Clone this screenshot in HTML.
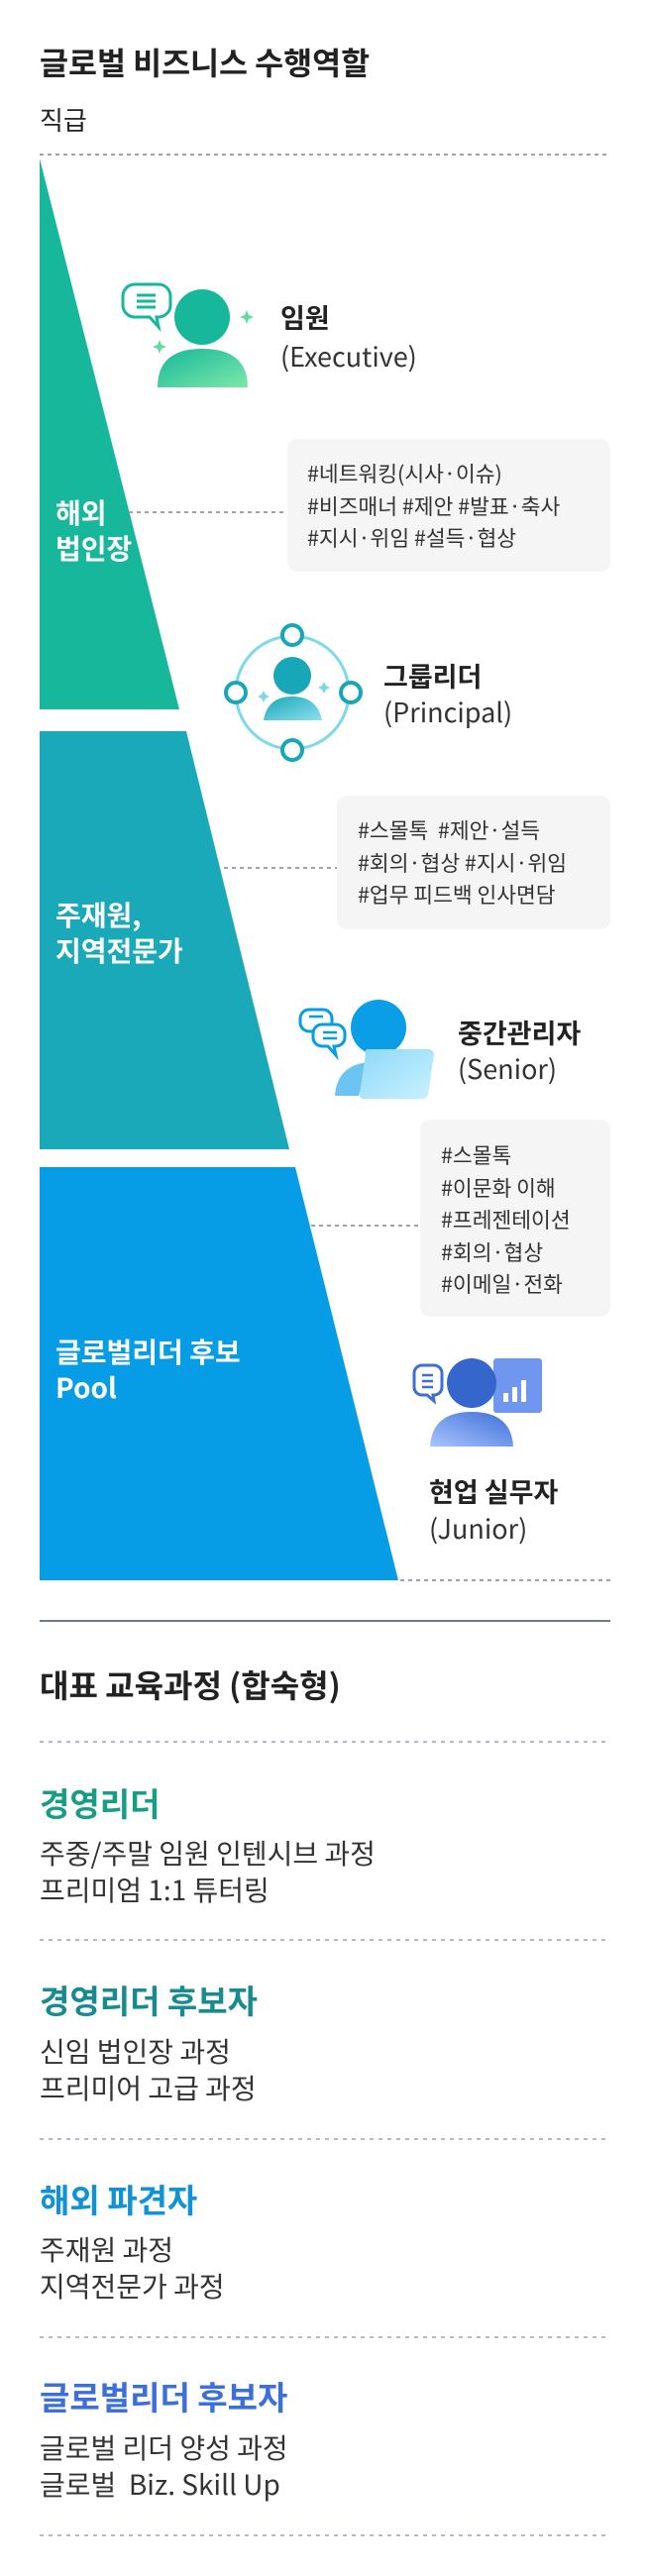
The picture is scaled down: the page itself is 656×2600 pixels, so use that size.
<!DOCTYPE html>
<html><head><meta charset="utf-8"><style>
*{margin:0;padding:0;box-sizing:border-box}
body{width:656px;height:2600px;background:#fff;position:relative;overflow:hidden;font-family:"Noto Sans CJK KR","Liberation Sans",sans-serif;color:#222}
.t{position:absolute;white-space:nowrap}
.b{font-weight:700}
.tag{position:absolute;background:#f5f5f5;border-radius:10px;font-size:21.5px;line-height:32.5px;color:#333;white-space:nowrap}
.w{color:#fff;font-weight:700;font-size:28px;line-height:36px}
.h{font-size:33px;font-weight:700;line-height:42px}
.s{font-size:28px;line-height:37px;color:#333}
.rn{font-size:27px;line-height:34px;font-weight:700}
.rl{font-size:27px;line-height:34px;color:#333}
</style></head><body>
<svg width="656" height="2600" style="position:absolute;left:0;top:0">
<defs>
<linearGradient id="g1" x1="0" y1="0" x2="1" y2="1"><stop offset="0" stop-color="#16b79a"/><stop offset="1" stop-color="#7de8a8"/></linearGradient>
<linearGradient id="g2" x1="0" y1="0" x2="1" y2="1"><stop offset="0" stop-color="#17a7b8"/><stop offset="1" stop-color="#8fe0ee"/></linearGradient>
<linearGradient id="g3" x1="0" y1="0" x2="1" y2="1"><stop offset="0" stop-color="#8fd8f8"/><stop offset="1" stop-color="#c8f2ff"/></linearGradient>
<linearGradient id="g4" x1="1" y1="0" x2="0" y2="1"><stop offset="0" stop-color="#3d6fd8"/><stop offset="1" stop-color="#a8c4ff"/></linearGradient>
</defs>
<line x1="40" y1="156" x2="616" y2="156" stroke="#9aa3b2" stroke-width="2" stroke-dasharray="4 4"/>
<polygon points="40,160 181,716 40,716" fill="#16b79a"/>
<polygon points="40,738 188,738 292,1160 40,1160" fill="#1aa9b9"/>
<polygon points="40,1178 298,1178 402,1595 40,1595" fill="#069de6"/>
<line x1="130" y1="517" x2="290" y2="517" stroke="#9aa3b2" stroke-width="2" stroke-dasharray="4 4"/>
<line x1="226" y1="876" x2="340" y2="876" stroke="#9aa3b2" stroke-width="2" stroke-dasharray="4 4"/>
<line x1="314" y1="1237" x2="424" y2="1237" stroke="#9aa3b2" stroke-width="2" stroke-dasharray="4 4"/>
<line x1="404" y1="1595" x2="616" y2="1595" stroke="#9aa3b2" stroke-width="2" stroke-dasharray="4 4"/>
<path d="M136,287 h24 a12,12 0 0 1 12,12 v9 a12,12 0 0 1 -12,12 h-2 l2,10 -9,-10 h-15 a12,12 0 0 1 -12,-12 v-9 a12,12 0 0 1 12,-12z" fill="#fff" stroke="#16b79a" stroke-width="3"/>
<line x1="138" y1="298" x2="157" y2="298" stroke="#16b79a" stroke-width="3"/>
<line x1="138" y1="304" x2="157" y2="304" stroke="#16b79a" stroke-width="3"/>
<line x1="138" y1="310" x2="157" y2="310" stroke="#16b79a" stroke-width="3"/>
<circle cx="204" cy="320" r="28" fill="#16b79a"/>
<path d="M159,391 Q159,352 204,352 Q250,352 250,391 Z" fill="url(#g1)"/>
<path d="M249,313 l2,5 5,2 -5,2 -2,5 -2,-5 -5,-2 5,-2z" fill="#5edc9c"/>
<path d="M161,343 l2,5 5,2 -5,2 -2,5 -2,-5 -5,-2 5,-2z" fill="#5edc9c"/>
<circle cx="295" cy="699" r="57" fill="none" stroke="#7dd9e8" stroke-width="3"/>
<circle cx="295" cy="641" r="10" fill="#fff" stroke="#17a7b8" stroke-width="4"/>
<circle cx="295" cy="757" r="10" fill="#fff" stroke="#17a7b8" stroke-width="4"/>
<circle cx="238" cy="699" r="10" fill="#fff" stroke="#17a7b8" stroke-width="4"/>
<circle cx="354" cy="699" r="10" fill="#fff" stroke="#17a7b8" stroke-width="4"/>
<circle cx="295" cy="682" r="19" fill="#17a7b8"/>
<path d="M266,727 Q270,703 295,703 Q320,703 325,727 Z" fill="url(#g2)"/>
<path d="M327,688 l2,4 4,2 -4,2 -2,4 -2,-4 -4,-2 4,-2z" fill="#7dd9e8"/>
<path d="M266,697 l2,4 4,2 -4,2 -2,4 -2,-4 -4,-2 4,-2z" fill="#7dd9e8"/>
<path d="M312,1019 h14 a9,9 0 0 1 9,9 v4 a9,9 0 0 1 -9,9 h-14 a9,9 0 0 1 -9,-9 v-4 a9,9 0 0 1 9,-9z" fill="#fff" stroke="#069de6" stroke-width="3"/>
<line x1="312" y1="1026" x2="326" y2="1026" stroke="#069de6" stroke-width="2.5"/>
<path d="M325,1034 h14 a9,9 0 0 1 9,9 v4 a9,9 0 0 1 -9,9 h-2 l2,9 -8,-9 h-6 a9,9 0 0 1 -9,-9 v-4 a9,9 0 0 1 9,-9z" fill="#fff" stroke="#069de6" stroke-width="3"/>
<line x1="326" y1="1042" x2="340" y2="1042" stroke="#069de6" stroke-width="2.5"/>
<line x1="326" y1="1048" x2="340" y2="1048" stroke="#069de6" stroke-width="2.5"/>
<circle cx="382" cy="1037" r="28" fill="#0a9ee6"/>
<path d="M338,1106 Q340,1075 372,1072 L362,1106 Z" fill="#6cc4f2"/>
<path d="M370,1059 h63 a5,5 0 0 1 5,5 l-6,41 a5,5 0 0 1 -5,4 h-60 a4,4 0 0 1 -4,-5 l6,-40 a5,5 0 0 1 1,-5z" fill="url(#g3)"/>
<path d="M426,1378 h12 a8,8 0 0 1 8,8 v14 a8,8 0 0 1 -8,8 h-1 l1,6 -7,-6 h-5 a8,8 0 0 1 -8,-8 v-14 a8,8 0 0 1 8,-8z" fill="#fff" stroke="#3d6fd8" stroke-width="3"/>
<line x1="426" y1="1388" x2="437" y2="1388" stroke="#3d6fd8" stroke-width="2.5"/>
<line x1="426" y1="1394" x2="437" y2="1394" stroke="#3d6fd8" stroke-width="2.5"/>
<line x1="426" y1="1400" x2="437" y2="1400" stroke="#3d6fd8" stroke-width="2.5"/>
<rect x="498" y="1371" width="49" height="55" rx="3" fill="#6f97ef"/>
<rect x="508" y="1406" width="5" height="9" fill="#fff"/>
<rect x="517" y="1400" width="5" height="15" fill="#fff"/>
<rect x="526" y="1393" width="5" height="22" fill="#fff"/>
<circle cx="476" cy="1396" r="25" fill="#3566cc"/>
<path d="M434,1460 Q436,1425 476,1425 Q516,1425 518,1460 Z" fill="url(#g4)"/>
<line x1="40" y1="1636" x2="616" y2="1636" stroke="#6b7a8c" stroke-width="2"/>
<line x1="40" y1="1758" x2="616" y2="1758" stroke="#9aa3b2" stroke-width="1.5" stroke-dasharray="4 5"/>
<line x1="40" y1="1958" x2="616" y2="1958" stroke="#9aa3b2" stroke-width="1.5" stroke-dasharray="4 5"/>
<line x1="40" y1="2159" x2="616" y2="2159" stroke="#9aa3b2" stroke-width="1.5" stroke-dasharray="4 5"/>
<line x1="40" y1="2359" x2="616" y2="2359" stroke="#9aa3b2" stroke-width="1.5" stroke-dasharray="4 5"/>
<line x1="40" y1="2559" x2="616" y2="2559" stroke="#9aa3b2" stroke-width="1.5" stroke-dasharray="4 5"/>
</svg>

<div class="t b" style="left:40px;top:42px;font-size:31.5px;line-height:40px">글로벌 비즈니스 수행역할</div>
<div class="t" style="left:40px;top:104px;font-size:26px;line-height:34px">직급</div>

<div class="t rn" style="left:283px;top:303px">임원</div>
<div class="t rl" style="left:283px;top:342px">(Executive)</div>
<div class="tag" style="left:290px;top:443px;width:326px;height:134px;padding:19px 0 0 20px">#네트워킹(시사·이슈)<br>#비즈매너 #제안 #발표·축사<br>#지시·위임 #설득·협상</div>
<div class="t w" style="left:56px;top:499px">해외<br>법인장</div>

<div class="t rn" style="left:387px;top:665px">그룹리더</div>
<div class="t rl" style="left:387px;top:701px">(Principal)</div>
<div class="tag" style="left:340px;top:803px;width:276px;height:135px;padding:19px 0 0 21px">#스몰톡 &nbsp;#제안·설득<br>#회의·협상 #지시·위임<br>#업무 피드백 인사면담</div>
<div class="t w" style="left:56px;top:905px">주재원,<br>지역전문가</div>

<div class="t rn" style="left:462px;top:1025px">중간관리자</div>
<div class="t rl" style="left:462px;top:1061px">(Senior)</div>
<div class="tag" style="left:424px;top:1130px;width:192px;height:199px;padding:20px 0 0 21px">#스몰톡<br>#이문화 이해<br>#프레젠테이션<br>#회의·협상<br>#이메일·전화</div>
<div class="t w" style="left:56px;top:1346px">글로벌리더 후보<br>Pool</div>

<div class="t rn" style="left:433px;top:1488px">현업 실무자</div>
<div class="t rl" style="left:433px;top:1525px">(Junior)</div>

<div class="t b" style="left:40px;top:1680px;font-size:32px;line-height:40px">대표 교육과정 (합숙형)</div>

<div class="t h" style="left:40px;top:1798px;color:#159e84">경영리더</div>
<div class="t s" style="left:40px;top:1852px">주중/주말 임원 인텐시브 과정<br>프리미엄 1:1 튜터링</div>

<div class="t h" style="left:40px;top:1997px;color:#178b8f">경영리더 후보자</div>
<div class="t s" style="left:40px;top:2052px">신임 법인장 과정<br>프리미어 고급 과정</div>

<div class="t h" style="left:40px;top:2198px;color:#0e92d8">해외 파견자</div>
<div class="t s" style="left:40px;top:2252px">주재원 과정<br>지역전문가 과정</div>

<div class="t h" style="left:40px;top:2397px;color:#3d6fd8">글로벌리더 후보자</div>
<div class="t s" style="left:40px;top:2452px">글로벌 리더 양성 과정<br>글로벌 &nbsp;Biz. Skill Up</div>
</body></html>
